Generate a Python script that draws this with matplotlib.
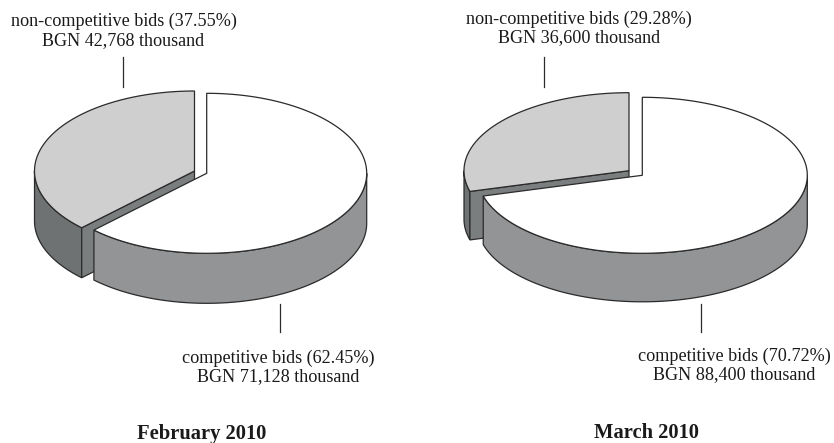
import numpy as np
import matplotlib
matplotlib.use("Agg")
import matplotlib.pyplot as plt

plt.rcParams["font.family"] = ["Liberation Serif", "DejaVu Serif"]

# shares in percent
months = ["February 2010", "March 2010"]
noncomp_share = [37.55, 29.28]
comp_share = [62.45, 70.72]
noncomp_bgn = ["42,768", "36,600"]
comp_bgn = ["71,128", "88,400"]

TOP_GREY = "#cfcfcf"
WALL_DARK = "#6f7273"
CUT_DARK = "#7b7e7f"
WALL_MID = "#939496"
EDGE = "#2b2b2b"


def arc(cx, cy, a, b, t0, t1):
    t = np.radians(np.linspace(t0, t1, 200))
    return cx + a * np.cos(t), cy - b * np.sin(t)


def wall(ax, cx, cy, a, b, depth, t0, t1, color):
    x, y = arc(cx, cy, a, b, t0, t1)
    ax.fill(np.r_[x, x[::-1]], np.r_[y, y[::-1] + depth], fc=color, ec=EDGE, lw=0.9)


def top(ax, cx, cy, a, b, t0, t1, color):
    x, y = arc(cx, cy, a, b, t0, t1)
    ax.fill(np.r_[cx, x], np.r_[cy, y], fc=color, ec=EDGE, lw=0.9)


def draw_pie(ax, share, g_c, w_c, a, b, depth):
    # grey slice runs anticlockwise from 12 o'clock, white slice takes the rest
    split = 90 + share * 3.6
    gx, gy = g_c
    wx, wy = w_c
    wall(ax, gx, gy, a, b, depth, 180, split, WALL_DARK)
    tx, ty = arc(gx, gy, a, b, split, split)
    ax.fill([gx, tx[0], tx[0], gx], [gy, ty[0], ty[0] + depth, gy + depth],
            fc=CUT_DARK, ec=EDGE, lw=0.9)
    top(ax, gx, gy, a, b, 90, split, TOP_GREY)
    wall(ax, wx, wy, a, b, depth, split, 360, WALL_MID)
    top(ax, wx, wy, a, b, split, 450, "white")


fig = plt.figure(figsize=(8.34, 4.43), dpi=100)
ax = fig.add_axes([0, 0, 1, 1])
ax.set_xlim(0, 834)
ax.set_ylim(443, 0)
ax.axis("off")

draw_pie(ax, noncomp_share[0], (194.5, 171), (206.7, 173.3), 160, 80, 50)
draw_pie(ax, noncomp_share[1], (629, 170.7), (642.3, 175.3), 165, 78, 48.5)

# leader lines
for x, y0, y1 in [(123.5, 57, 87), (280, 304, 332), (544.5, 57, 87), (701, 304, 332)]:
    ax.plot([x, x], [y0, y1], color=EDGE, lw=0.9)

fs = 13.1
txt = dict(ha="center", va="center", fontsize=fs, color="#1a1a1a", linespacing=1.13)
ax.text(123.5, 31, f"non-competitive bids ({noncomp_share[0]}%)\nBGN {noncomp_bgn[0]} thousand", **txt)
ax.text(278, 367.5, f"competitive bids ({comp_share[0]}%)\nBGN {comp_bgn[0]} thousand", **txt)
ax.text(579, 28.5, f"non-competitive bids ({noncomp_share[1]}%)\nBGN {noncomp_bgn[1]} thousand", **txt)
ax.text(734, 365.5, f"competitive bids ({comp_share[1]}%)\nBGN {comp_bgn[1]} thousand", **txt)

ttl = dict(ha="center", va="center", fontsize=14.8, fontweight="bold", color="#1a1a1a")
ax.text(201.5, 434, months[0], **ttl)
ax.text(647, 433, months[1], **ttl)

fig.savefig("out.png", dpi=100)
